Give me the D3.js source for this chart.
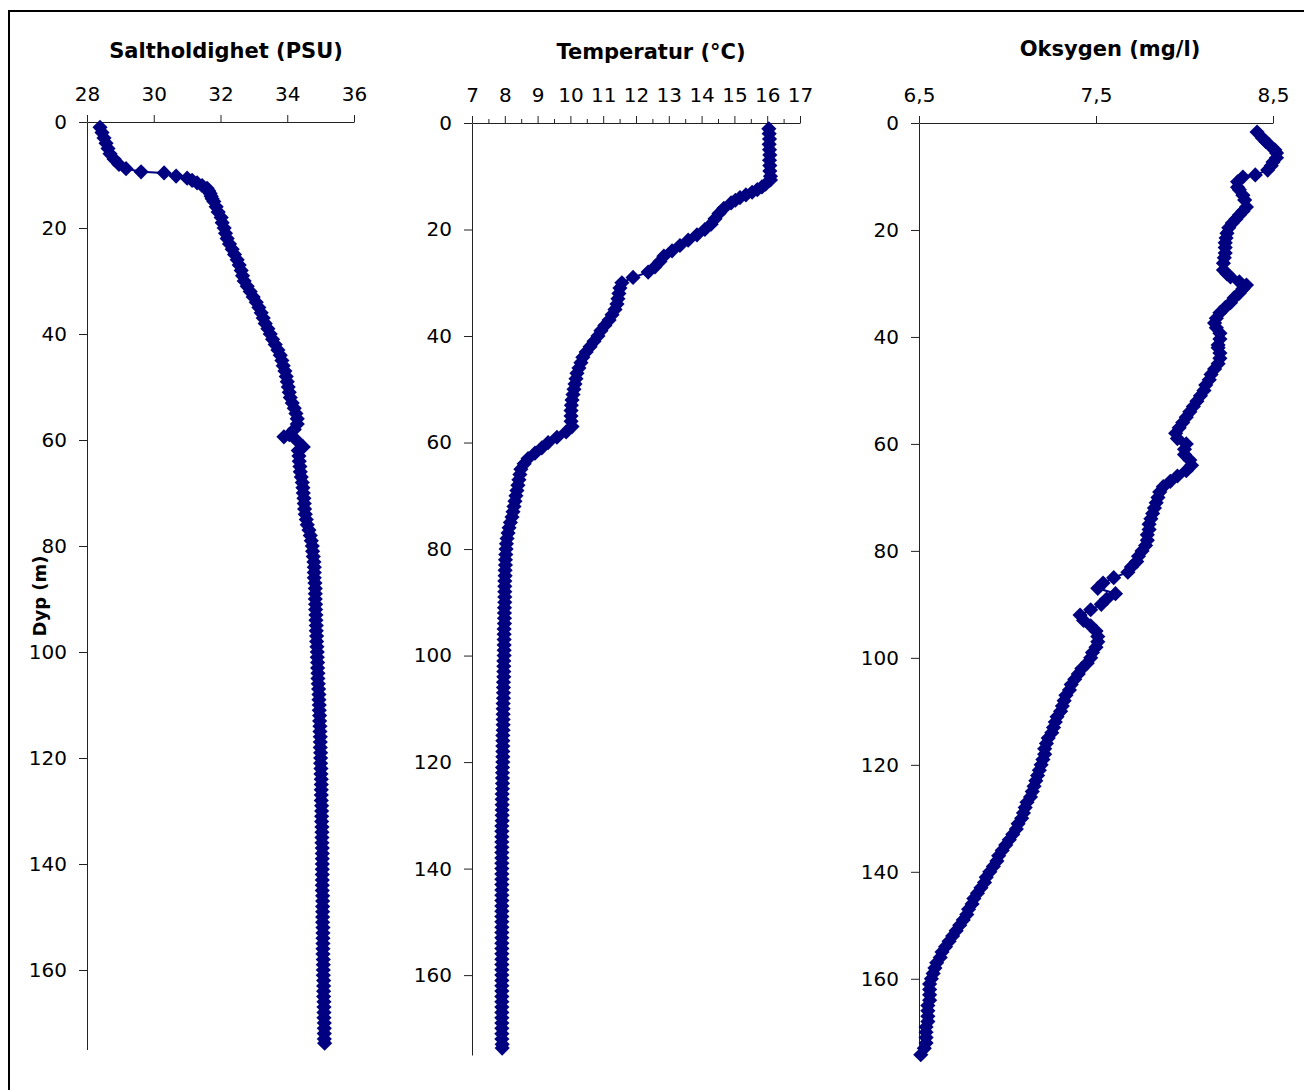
<!DOCTYPE html>
<html>
<head>
<meta charset="utf-8">
<script src="https://cdn.jsdelivr.net/npm/d3@7"></script>
<style>
  body { margin: 0; background: #fff; }
  svg { display: block; font-family: "DejaVu Sans", Verdana, sans-serif; }
  .tick text { font-family: "DejaVu Sans", Verdana, sans-serif; font-size: 20px; fill: #000; }
  .tick line, .domain { stroke: #222; }
</style>
</head>
<body>
<svg id="chart" width="1304" height="1090"></svg>
<script>
// depth tick labels, shared by all three profiles
const depthTicks = [0, 20, 40, 60, 80, 100, 120, 140, 160];

// salinity profile (PSU)
const salTicks = [28, 30, 32, 34, 36];
const salDepth = [
  1, 2, 3, 4, 5, 6, 7, 8, 8.8, 9.4,
  9.6, 10.2, 10.6, 11, 11.5, 12, 12.5, 13, 13.5, 14,
  14.5, 15, 16, 17, 18, 19, 20, 21, 22, 23,
  24, 25, 26, 27, 28, 29, 30, 31, 32, 33,
  34, 35, 36, 37, 38, 39, 40, 41, 42, 43,
  44, 45, 46, 47, 48, 49, 50, 51, 52, 53,
  54, 55, 56, 57, 58, 59, 59.4, 60, 61.3, 62,
  63, 64, 65, 66, 67, 68, 69, 70, 71, 72,
  73, 74, 75, 76, 77, 78, 79, 80, 81, 82,
  83, 84, 85, 86, 87, 88, 89, 90, 91, 92,
  93, 94, 95, 96, 97, 98, 99, 100, 101, 102,
  103, 104, 105, 106, 107, 108, 109, 110, 111, 112,
  113, 114, 115, 116, 117, 118, 119, 120, 121, 122,
  123, 124, 125, 126, 127, 128, 129, 130, 131, 132,
  133, 134, 135, 136, 137, 138, 139, 140, 141, 142,
  143, 144, 145, 146, 147, 148, 149, 150, 151, 152,
  153, 154, 155, 156, 157, 158, 159, 160, 161, 162,
  163, 164, 165, 166, 167, 168, 169, 170, 171, 172,
  173, 173.8];
const salValue = [
  28.39, 28.45, 28.51, 28.57, 28.63, 28.69, 28.81, 28.96, 29.17, 29.62,
  30.31, 30.67, 31.0, 31.15, 31.3, 31.45, 31.6, 31.65, 31.69, 31.72,
  31.75, 31.8, 31.87, 31.93, 32.02, 32.05, 32.11, 32.15, 32.2, 32.27,
  32.35, 32.42, 32.5, 32.56, 32.62, 32.66, 32.71, 32.8, 32.89, 32.98,
  33.07, 33.15, 33.22, 33.28, 33.34, 33.42, 33.49, 33.56, 33.64, 33.72,
  33.79, 33.84, 33.88, 33.93, 33.97, 34.0, 34.03, 34.06, 34.09, 34.15,
  34.21, 34.26, 34.3, 34.3, 34.21, 34.06, 33.9, 34.27, 34.48, 34.33,
  34.35, 34.36, 34.38, 34.39, 34.42, 34.45, 34.47, 34.48, 34.5, 34.51,
  34.52, 34.54, 34.57, 34.6, 34.65, 34.69, 34.72, 34.75, 34.76, 34.78,
  34.8, 34.81, 34.81, 34.81, 34.83, 34.84, 34.84, 34.84, 34.85, 34.85,
  34.86, 34.86, 34.87, 34.87, 34.88, 34.88, 34.89, 34.9, 34.9, 34.91,
  34.91, 34.92, 34.92, 34.93, 34.94, 34.95, 34.95, 34.96, 34.96, 34.97,
  34.97, 34.98, 34.98, 34.99, 34.99, 34.99, 35.0, 35.0, 35.0, 35.01,
  35.01, 35.02, 35.02, 35.02, 35.02, 35.02, 35.03, 35.03, 35.03, 35.03,
  35.04, 35.04, 35.04, 35.04, 35.05, 35.05, 35.05, 35.05, 35.05, 35.05,
  35.05, 35.05, 35.05, 35.06, 35.06, 35.06, 35.06, 35.06, 35.06, 35.07,
  35.07, 35.07, 35.07, 35.07, 35.07, 35.08, 35.08, 35.08, 35.08, 35.09,
  35.09, 35.09, 35.09, 35.1, 35.1, 35.1, 35.1, 35.11, 35.11, 35.11,
  35.11, 35.12];

// temperature profile (°C)
const tempTicks = [7, 8, 9, 10, 11, 12, 13, 14, 15, 16, 17];
const tempMinorTicks = [7.5, 8.5, 9.5, 10.5, 11.5, 12.5, 13.5, 14.5, 15.5, 16.5];
const tempDepth = [
  1.1, 2, 3, 4, 5, 6, 7, 8, 9, 10,
  10.7, 11.5, 12, 12.5, 13, 13.5, 14, 14.5, 15, 16,
  17, 18, 19, 20, 21, 22, 23, 24, 25, 26,
  27, 28, 29, 30, 31, 32, 33, 34, 35, 36,
  37, 38, 39, 40, 41, 42, 43, 44, 45, 46,
  47, 48, 49, 50, 51, 52, 53, 54, 55, 56,
  57, 58, 59, 60, 61, 62, 63, 64, 65, 66,
  67, 68, 69, 70, 71, 72, 73, 74, 75, 76,
  77, 78, 79, 80, 81, 82, 83, 84, 85, 86,
  87, 88, 89, 90, 91, 92, 93, 94, 95, 96,
  97, 98, 99, 100, 101, 102, 103, 104, 105, 106,
  107, 108, 109, 110, 111, 112, 113, 114, 115, 116,
  117, 118, 119, 120, 121, 122, 123, 124, 125, 126,
  127, 128, 129, 130, 131, 132, 133, 134, 135, 136,
  137, 138, 139, 140, 141, 142, 143, 144, 145, 146,
  147, 148, 149, 150, 151, 152, 153, 154, 155, 156,
  157, 158, 159, 160, 161, 162, 163, 164, 165, 166,
  167, 168, 169, 170, 171, 172, 173, 173.7];
const tempValue = [
  16.05, 16.06, 16.07, 16.06, 16.07, 16.08, 16.07, 16.08, 16.08, 16.1,
  16.1, 15.95, 15.84, 15.7, 15.54, 15.35, 15.17, 15.03, 14.9, 14.68,
  14.53, 14.41, 14.29, 14.1, 13.86, 13.59, 13.34, 13.1, 12.85, 12.73,
  12.58, 12.37, 11.91, 11.57, 11.51, 11.48, 11.45, 11.42, 11.36, 11.27,
  11.18, 11.05, 10.93, 10.84, 10.72, 10.6, 10.48, 10.38, 10.32, 10.26,
  10.2, 10.17, 10.14, 10.11, 10.08, 10.05, 10.03, 10.02, 10.02, 10.02,
  10.05, 9.87, 9.59, 9.32, 9.13, 8.92, 8.71, 8.59, 8.49, 8.46,
  8.43, 8.4, 8.37, 8.34, 8.31, 8.28, 8.25, 8.22, 8.17, 8.13,
  8.1, 8.07, 8.05, 8.04, 8.03, 8.02, 8.02, 8.01, 8.01, 8.0,
  8.0, 8.0, 8.0, 8.0, 7.99, 7.99, 7.99, 7.99, 7.98, 7.98,
  7.98, 7.98, 7.98, 7.98, 7.97, 7.97, 7.97, 7.97, 7.96, 7.96,
  7.96, 7.96, 7.95, 7.95, 7.95, 7.95, 7.95, 7.95, 7.94, 7.94,
  7.94, 7.94, 7.94, 7.94, 7.93, 7.93, 7.93, 7.93, 7.93, 7.92,
  7.92, 7.92, 7.92, 7.92, 7.92, 7.91, 7.91, 7.91, 7.91, 7.91,
  7.91, 7.91, 7.91, 7.91, 7.91, 7.91, 7.91, 7.91, 7.91, 7.91,
  7.91, 7.91, 7.91, 7.91, 7.91, 7.91, 7.91, 7.91, 7.91, 7.91,
  7.91, 7.91, 7.91, 7.91, 7.91, 7.91, 7.91, 7.91, 7.91, 7.91,
  7.91, 7.91, 7.91, 7.91, 7.91, 7.91, 7.92, 7.92];

// oxygen profile (mg/l)
const oxyTicks = [6.5, 7.5, 8.5];
const oxyDepth = [
  1.7, 2.8, 3.5, 4.1, 5, 5.6, 6.5, 7.3, 8, 8.8,
  9.7, 10.1, 11, 12, 12.5, 13.5, 14.4, 15.7, 16.5, 17.2,
  18, 18.7, 19.6, 20.6, 21.5, 22.4, 23.3, 24.3, 25.2, 26.2,
  27.5, 28.2, 28.8, 29.7, 30.3, 31, 31.8, 32.7, 33.6, 34.5,
  35.5, 36.5, 37.4, 38.3, 39.3, 40.4, 41.5, 42, 43, 44,
  45, 46, 47, 48, 49, 50, 51, 52, 53, 54,
  55, 56, 57, 58, 59, 60, 61, 62, 63, 64,
  65, 66, 67, 68, 69, 70, 71, 72, 73, 74,
  75, 76, 77, 78, 79, 80, 81, 82, 83, 84,
  85, 86, 87, 88, 89, 90, 91, 92, 93, 94,
  95, 96, 97, 98, 99, 100, 101, 102, 103, 104,
  105, 106, 107, 108, 109, 110, 111, 112, 113, 114,
  115, 116, 117, 118, 119, 120, 121, 122, 123, 124,
  125, 126, 127, 128, 129, 130, 131, 132, 133, 134,
  135, 136, 137, 138, 139, 140, 141, 142, 143, 144,
  145, 146, 147, 148, 149, 150, 151, 152, 153, 154,
  155, 156, 157, 158, 159, 160, 161, 162, 163, 164,
  165, 166, 167, 168, 169, 170, 171, 172, 173, 174.2];
const oxyValue = [
  8.41, 8.44, 8.46, 8.48, 8.51, 8.52, 8.52, 8.5, 8.49, 8.47,
  8.4, 8.33, 8.3, 8.3, 8.31, 8.33, 8.34, 8.35, 8.33, 8.31,
  8.29, 8.27, 8.25, 8.24, 8.235, 8.23, 8.23, 8.23, 8.225, 8.22,
  8.22, 8.24, 8.26, 8.31, 8.35, 8.33, 8.31, 8.28, 8.26, 8.23,
  8.2, 8.18, 8.17, 8.18, 8.2, 8.2, 8.19, 8.19, 8.2, 8.2,
  8.19, 8.17, 8.15, 8.14, 8.12, 8.11, 8.09, 8.07, 8.05, 8.03,
  8.01, 7.99, 7.97, 7.95, 7.96, 8.01, 8.0, 8.0, 8.03, 8.04,
  8.01, 7.96, 7.92, 7.88, 7.86, 7.85, 7.84, 7.83, 7.82, 7.81,
  7.8, 7.8, 7.79, 7.79, 7.78, 7.76, 7.74, 7.73, 7.7, 7.68,
  7.6, 7.54, 7.51, 7.61, 7.56, 7.53, 7.47, 7.41, 7.43, 7.47,
  7.5, 7.51, 7.51, 7.5, 7.48, 7.47, 7.45, 7.42, 7.4, 7.38,
  7.36, 7.35, 7.33, 7.32, 7.31, 7.3, 7.28, 7.27, 7.26, 7.25,
  7.23, 7.22, 7.21, 7.21, 7.2, 7.19, 7.18, 7.17, 7.16, 7.15,
  7.14, 7.13, 7.11, 7.1, 7.09, 7.08, 7.06, 7.05, 7.03, 7.01,
  6.99, 6.97, 6.95, 6.94, 6.92, 6.9, 6.88, 6.87, 6.85, 6.83,
  6.81, 6.8, 6.78, 6.77, 6.75, 6.73, 6.71, 6.69, 6.67, 6.65,
  6.63, 6.62, 6.6, 6.59, 6.58, 6.57, 6.56, 6.56, 6.56, 6.56,
  6.55, 6.55, 6.55, 6.55, 6.54, 6.54, 6.54, 6.54, 6.53, 6.51];

const svg = d3.select("#chart");
const navy = "#000080";
const commaFmt = d3.formatLocale({decimal: ",", thousands: " ", grouping: [3], currency: ["", ""]});

// outer frame
svg.append("rect")
    .attr("x", 9).attr("y", 11)
    .attr("width", 1310).attr("height", 1100)
    .attr("fill", "none")
    .attr("stroke", "#000")
    .attr("stroke-width", 2);

const panels = [
    {title: "Saltholdighet (PSU)", depth: salDepth, values: salValue, domain: [28, 36], ticks: salTicks, minor: [],
     fmt: d3.format("d"), x0: 87, x1: 354, y0: 122, y1: 1049.5, titleX: 226, titleY: 58},
    {title: "Temperatur (°C)", depth: tempDepth, values: tempValue, domain: [7, 17], ticks: tempTicks, minor: tempMinorTicks,
     fmt: d3.format("d"), x0: 472, x1: 800, y0: 123, y1: 1055, titleX: 651, titleY: 59},
    {title: "Oksygen (mg/l)", depth: oxyDepth, values: oxyValue, domain: [6.5, 8.5], ticks: oxyTicks, minor: [],
     fmt: commaFmt.format(".1f"), x0: 919, x1: 1273, y0: 123, y1: 1059, titleX: 1110, titleY: 56}
];

panels.forEach(p => {
    const x = d3.scaleLinear().domain(p.domain).range([p.x0, p.x1]);
    const y = d3.scaleLinear().domain([0, 175]).range([p.y0, p.y1]);
    const g = svg.append("g");

    g.append("text")
        .attr("x", p.titleX)
        .attr("y", p.titleY)
        .attr("text-anchor", "middle")
        .attr("font-size", 21)
        .attr("font-weight", "bold")
        .text(p.title);

    if (p.minor.length) {
        g.append("g")
            .attr("transform", "translate(0," + p.y0 + ")")
            .call(d3.axisTop(x).tickValues(p.minor).tickSize(4).tickFormat(""))
            .select(".domain").remove();
    }

    g.append("g")
        .attr("transform", "translate(0," + p.y0 + ")")
        .call(d3.axisTop(x).tickValues(p.ticks).tickSize(7).tickSizeOuter(0).tickPadding(14).tickFormat(p.fmt));

    g.append("g")
        .attr("transform", "translate(" + p.x0 + ",0)")
        .call(d3.axisLeft(y).tickValues(depthTicks).tickSize(8).tickSizeOuter(0).tickPadding(12));

    const pts = p.depth.map((d, i) => ({d: d, v: p.values[i]}));

    g.append("path")
        .datum(pts)
        .attr("fill", "none")
        .attr("stroke", navy)
        .attr("stroke-width", 2)
        .attr("d", d3.line().x(d => x(d.v)).y(d => y(d.d)));

    g.selectAll(".pt")
        .data(pts)
        .join("path")
        .attr("class", "pt")
        .attr("fill", navy)
        .attr("transform", d => "translate(" + x(d.v) + "," + y(d.d) + ") rotate(45)")
        .attr("d", d3.symbol(d3.symbolSquare, 115));
});

svg.append("text")
    .attr("transform", "translate(46,596) rotate(-90)")
    .attr("text-anchor", "middle")
    .attr("font-size", 18)
    .attr("font-weight", "bold")
    .text("Dyp (m)");
</script>
</body>
</html>
